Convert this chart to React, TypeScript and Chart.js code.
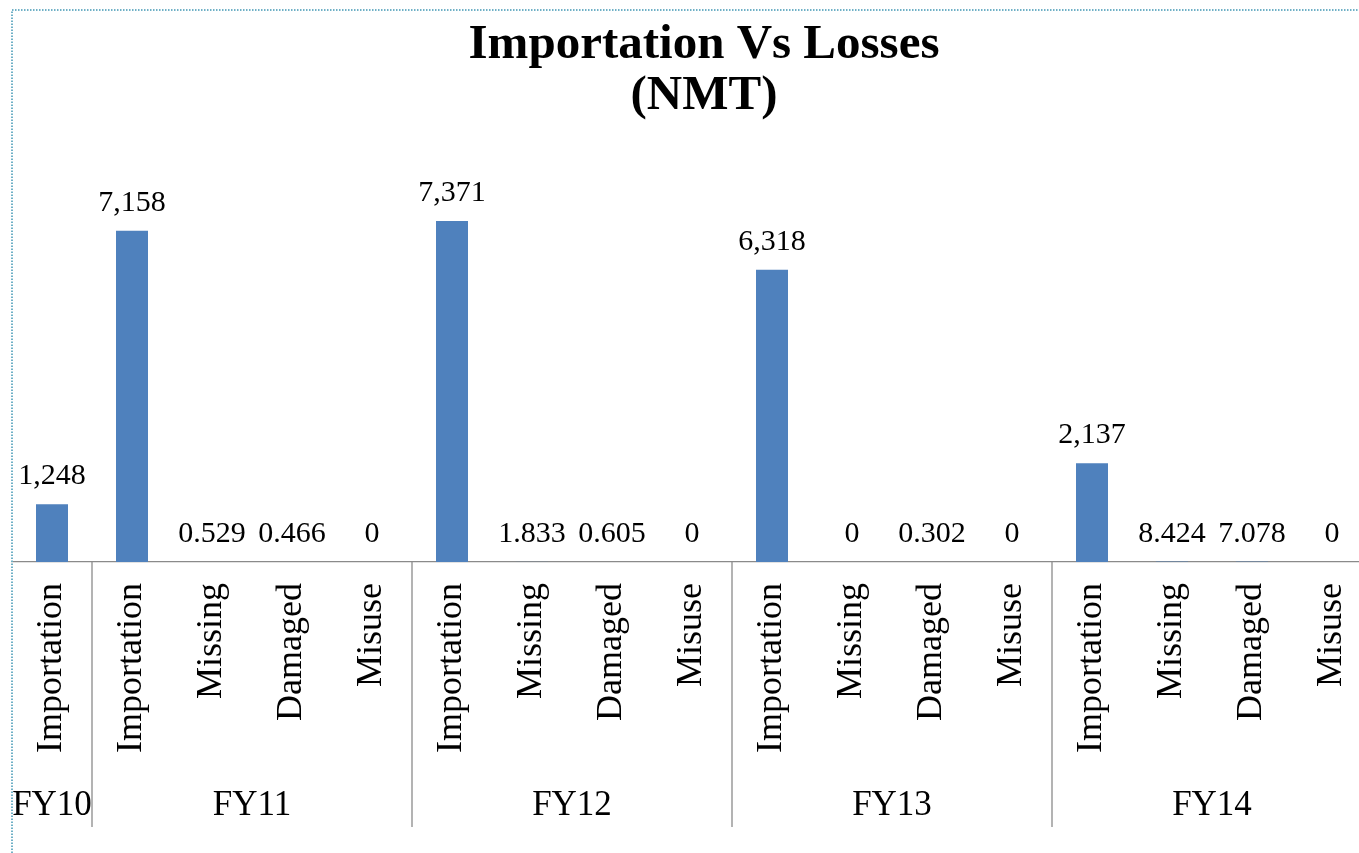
import React, { useEffect, useRef } from "react";
import { Chart, registerables } from "chart.js";

Chart.register(...registerables);

const titleLines = ["Importation Vs Losses", "(NMT)"];
const groups = ["FY10", "FY11", "FY12", "FY13", "FY14"];
const groupSizes = [1, 4, 4, 4, 4];
const categories = [
  "Importation",
  "Importation", "Missing", "Damaged", "Misuse",
  "Importation", "Missing", "Damaged", "Misuse",
  "Importation", "Missing", "Damaged", "Misuse",
  "Importation", "Missing", "Damaged", "Misuse",
];
const values = [
  1248,
  7158, 0.529, 0.466, 0,
  7371, 1.833, 0.605, 0,
  6318, 0, 0.302, 0,
  2137, 8.424, 7.078, 0,
];
const yMin = 0;
const yMax = 8000;

const SERIF = '"Liberation Serif", "Times New Roman", serif';
const W = 1400;
const H = 853;

function fmt(v: number): string {
  if (v === 0) return "0";
  if (v >= 1000) return v.toLocaleString("en-US");
  return v.toFixed(3);
}

const extrasPlugin = {
  id: "extras",
  afterDatasetsDraw(chart: any) {
    const ctx = chart.ctx;
    const meta = chart.getDatasetMeta(0);
    ctx.save();
    ctx.fillStyle = "#000";
    ctx.font = `30px ${SERIF}`;
    ctx.textAlign = "center";
    ctx.textBaseline = "alphabetic";
    meta.data.forEach((bar: any, i: number) => {
      ctx.fillText(fmt(values[i]), bar.x, bar.y - 20);
    });
    ctx.restore();
  },
  afterDraw(chart: any) {
    const ctx = chart.ctx;
    const xs = chart.scales.x;
    const area = chart.chartArea;
    ctx.save();
    let start = 0;
    ctx.strokeStyle = "#8a8a8a";
    ctx.lineWidth = 1.3;
    ctx.fillStyle = "#000";
    ctx.font = `35px ${SERIF}`;
    ctx.textAlign = "center";
    ctx.textBaseline = "alphabetic";
    groups.forEach((g, gi) => {
      const end = start + groupSizes[gi] - 1;
      if (start > 0) {
        const sx = (xs.getPixelForValue(start - 1) + xs.getPixelForValue(start)) / 2;
        ctx.beginPath();
        ctx.moveTo(sx, area.bottom);
        ctx.lineTo(sx, area.bottom + 265);
        ctx.stroke();
      }
      const cx = (xs.getPixelForValue(start) + xs.getPixelForValue(end)) / 2;
      ctx.fillText(g, cx, area.bottom + 253);
      start = end + 1;
    });
    // dotted chart border
    ctx.strokeStyle = "#6fb0c6";
    ctx.lineWidth = 2;
    ctx.setLineDash([1.5, 1.5]);
    ctx.beginPath();
    ctx.moveTo(area.left, H);
    ctx.lineTo(area.left, 10);
    ctx.lineTo(W, 10);
    ctx.stroke();
    ctx.restore();
  },
};

export default function App() {
  const ref = useRef<HTMLCanvasElement | null>(null);
  useEffect(() => {
    document.documentElement.style.overflow = "hidden";
    document.body.style.overflow = "hidden";
    const canvas = ref.current;
    if (!canvas) return;
    const chart = new Chart(canvas, {
      type: "bar",
      data: {
        labels: categories,
        datasets: [
          {
            data: values,
            backgroundColor: "#4F81BD",
            borderWidth: 0,
            categoryPercentage: 1,
            barPercentage: 0.4,
          },
        ],
      },
      options: {
        responsive: false,
        animation: false,
        devicePixelRatio: 1,
        layout: { padding: { left: 12, right: 4, top: 0, bottom: 0 } },
        plugins: {
          legend: { display: false },
          tooltip: { enabled: false },
          title: {
            display: true,
            text: titleLines,
            color: "#000",
            font: { family: SERIF, size: 49, weight: "bold", lineHeight: 1.04 },
            padding: { top: 20, bottom: 70 },
          },
        },
        scales: {
          x: {
            grid: { display: false, drawTicks: false },
            border: { display: true, color: "#8a8a8a", width: 1.3 },
            ticks: {
              autoSkip: false,
              minRotation: 90,
              maxRotation: 90,
              padding: 21,
              color: "#000",
              font: { family: SERIF, size: 36 },
            },
            afterFit: (s: any) => {
              s.height = H - 562;
            },
          },
          y: {
            position: "right",
            min: yMin,
            max: yMax,
            grid: { display: false },
            border: { display: false },
            ticks: { display: false },
            afterFit: (s: any) => {
              s.width = 24;
            },
          },
        },
      },
      plugins: [extrasPlugin],
    });
    return () => chart.destroy();
  }, []);
  return (
    <div style={{ position: "fixed", left: 0, top: 0, width: W, height: H, overflow: "hidden", background: "#fff" }}>
      <canvas ref={ref} width={W} height={H} style={{ width: W, height: H, display: "block" }} />
    </div>
  );
}
